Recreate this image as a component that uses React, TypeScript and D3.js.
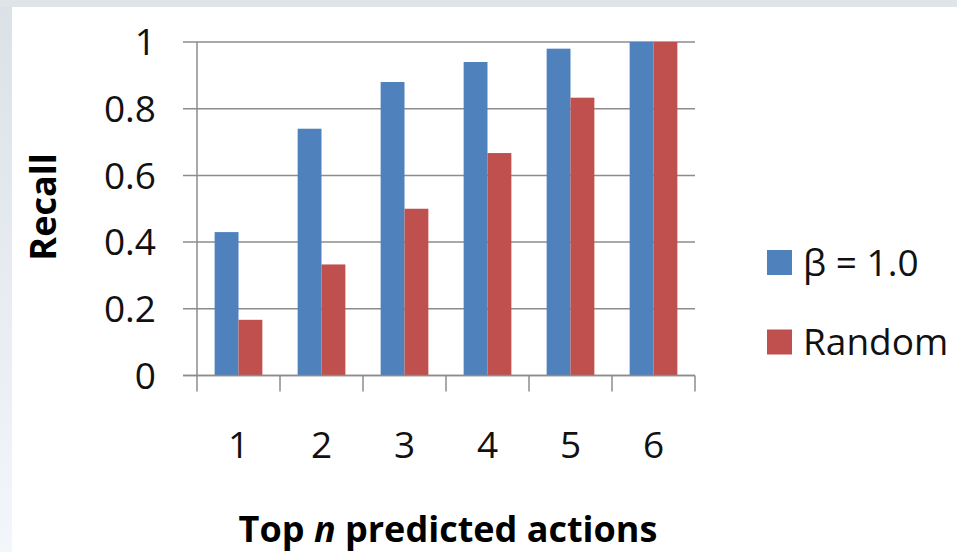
import React from "react";
import * as d3 from "d3";

const categories = ["1", "2", "3", "4", "5", "6"];
const seriesNames = ["β = 1.0", "Random"];
const betaRecall = [0.43, 0.74, 0.88, 0.94, 0.98, 1.0];
const randomRecall = [0.167, 0.333, 0.5, 0.667, 0.833, 1.0];
const yTicks = [0, 0.2, 0.4, 0.6, 0.8, 1];
const colors = ["#4F81BD", "#C0504D"];

const W = 957;
const H = 552;
const FONT = "'Open Sans', Lato, sans-serif";

export default function App() {
  const plot = { left: 197, right: 695, top: 42, bottom: 375.5 };
  const x = d3.scaleBand().domain(categories).range([plot.left, plot.right]).paddingInner(0).paddingOuter(0);
  const y = d3.scaleLinear().domain([0, 1]).range([plot.bottom, plot.top]);
  const groupWidth = x.bandwidth() * 0.575;
  const sub = d3.scaleBand().domain(seriesNames).range([0, groupWidth]);
  const series = [betaRecall, randomRecall];
  const gridColor = "#8c8c8c";

  return (
    <svg width={W} height={H} style={{ position: "absolute", left: 0, top: 0 }}>
      <defs>
        <linearGradient id="sideFade" x1="0" y1="0" x2="0" y2="1">
          <stop offset="0" stopColor="#dbe1e7" />
          <stop offset="1" stopColor="#f3f6fa" />
        </linearGradient>
      </defs>
      <rect x={0} y={0} width={W} height={H} fill="#ffffff" />
      <rect x={0} y={0} width={12} height={H} fill="url(#sideFade)" />
      <rect x={0} y={0} width={W} height={7} fill="#dfe4e9" />

      {/* horizontal gridlines with left tick stubs */}
      {yTicks.map((t) => (
        <line key={"g" + t} x1={183} x2={plot.right} y1={y(t)} y2={y(t)} stroke={gridColor} strokeWidth={1.5} />
      ))}
      {/* y axis */}
      <line x1={plot.left} x2={plot.left} y1={plot.top} y2={plot.bottom} stroke={gridColor} strokeWidth={1.5} />

      {/* bars */}
      {series.map((vals, si) =>
        vals.map((v, i) => {
          const cx = (x(categories[i]) as number) + x.bandwidth() / 2 - groupWidth / 2;
          return (
            <rect
              key={si + "-" + i}
              x={cx + (sub(seriesNames[si]) as number)}
              y={y(v)}
              width={sub.bandwidth()}
              height={y(0) - y(v)}
              fill={colors[si]}
            />
          );
        })
      )}

      {/* x axis and category tick marks */}
      <line x1={183} x2={plot.right} y1={y(0)} y2={y(0)} stroke={gridColor} strokeWidth={1.5} />
      {d3.range(categories.length + 1).map((k) => {
        const xx = plot.left + k * x.step();
        return <line key={"xt" + k} x1={xx} x2={xx} y1={y(0)} y2={y(0) + 16} stroke={gridColor} strokeWidth={1.5} />;
      })}

      {/* y tick labels */}
      {yTicks.map((t) => (
        <text key={"yl" + t} x={156} y={y(t)} dy="0.36em" textAnchor="end" fontFamily={FONT} fontSize={37} fill="#111">
          {d3.format("")(t)}
        </text>
      ))}

      {/* category labels */}
      {categories.map((c) => (
        <text key={"xl" + c} x={(x(c) as number) + x.bandwidth() / 2} y={458} textAnchor="middle" fontFamily={FONT} fontSize={37} fill="#111">
          {c}
        </text>
      ))}

      {/* axis titles */}
      <text x={448} y={542} textAnchor="middle" fontFamily={FONT} fontSize={36} fontWeight="bold" fill="#000">
        Top <tspan fontStyle="italic">n</tspan> predicted actions
      </text>
      <text transform={`translate(56,207) rotate(-90)`} textAnchor="middle" fontFamily={FONT} fontSize={36} fontWeight="bold" fill="#000">
        Recall
      </text>

      {/* legend */}
      {seriesNames.map((s, i) => (
        <g key={"lg" + s} transform={`translate(767,${262.5 + i * 79.5})`}>
          <rect x={0} y={-12.5} width={25} height={25} fill={colors[i]} />
          <text x={36} y={0} dy="0.36em" fontFamily={FONT} fontSize={37} fill="#111">
            {s}
          </text>
        </g>
      ))}
    </svg>
  );
}
